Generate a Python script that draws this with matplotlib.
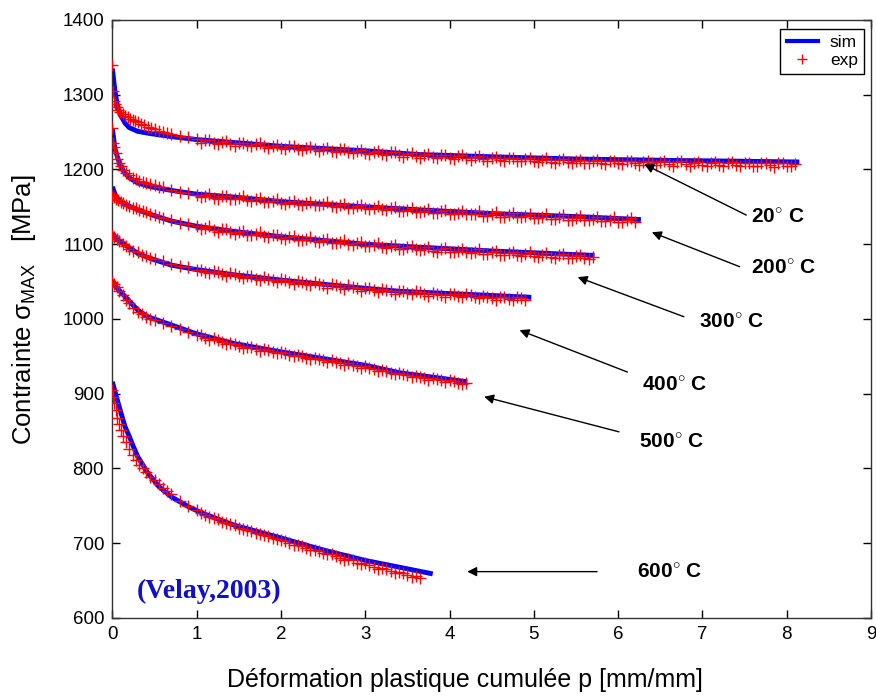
import matplotlib
matplotlib.use("Agg")
import matplotlib.pyplot as plt
from matplotlib.lines import Line2D

plt.rcParams['font.family'] = ['Liberation Sans', 'DejaVu Sans']
plt.rcParams['mathtext.fontset'] = 'custom'
plt.rcParams['mathtext.rm'] = 'Liberation Sans'
plt.rcParams['mathtext.it'] = 'Liberation Sans'

# ---------------- data ----------------
temps = ["20", "200", "300", "400", "500", "600"]

# simulated curves
sim_x_20 = [0, 0.03, 0.06, 0.1, 0.15, 0.2, 0.3, 0.45, 0.7, 1.0, 1.45, 2, 3, 3.64, 4.5, 5.5, 6.72, 7.5, 8.15]
sim_y_20 = [1335, 1305, 1285, 1272, 1262, 1256, 1251, 1248, 1244, 1240, 1236, 1231, 1225, 1220, 1217, 1214, 1212, 1211, 1210]
sim_x_200 = [0, 0.03, 0.07, 0.1, 0.15, 0.2, 0.3, 0.45, 0.7, 1.0, 1.45, 2, 3, 3.64, 4.5, 5.5, 6.27]
sim_y_200 = [1255, 1228, 1213, 1204, 1195, 1189, 1182, 1177, 1172, 1167, 1163, 1157, 1150, 1146, 1141, 1137, 1133]
sim_x_300 = [0, 0.04, 0.1, 0.2, 0.3, 0.45, 0.7, 1.0, 1.45, 2, 3, 3.64, 4.5, 5.72]
sim_y_300 = [1177, 1164, 1157, 1151, 1146, 1140, 1131, 1124, 1117, 1110, 1100, 1096, 1091, 1085]
sim_x_400 = [0, 0.05, 0.15, 0.3, 0.45, 0.7, 1.0, 1.45, 2, 3, 3.41, 4.2, 4.97]
sim_y_400 = [1115, 1107, 1099, 1088, 1081, 1072, 1066, 1059, 1052, 1041, 1037, 1033, 1029]
sim_x_500 = [0, 0.05, 0.15, 0.3, 0.42, 0.7, 1.0, 1.45, 2, 3, 3.41, 4.21]
sim_y_500 = [1052, 1042, 1030, 1012, 1003, 992, 980, 967, 956, 938, 928, 916]
sim_x_600 = [0, 0.03, 0.07, 0.1, 0.15, 0.2, 0.25, 0.3, 0.42, 0.55, 0.7, 0.9, 1.07, 1.45, 2, 2.5, 3, 3.4, 3.8]
sim_y_600 = [916, 903, 887, 875, 856, 843, 829, 816, 794, 776, 762, 749, 740, 724, 707, 691, 677, 668, 659]

# experimental points (main sampling)
exp_x_20 = [0, 0.01, 0.02, 0.03, 0.05, 0.07, 0.09, 0.12, 0.15, 0.18, 0.21, 0.24, 0.27, 0.3, 0.34, 0.38,
            0.42, 0.46, 0.5, 0.55, 0.6, 0.65, 0.7, 0.8, 0.9, 1.0,
            1.1, 1.2, 1.3, 1.4, 1.5, 1.6, 1.7, 1.8, 1.9, 2.0, 2.1, 2.2, 2.3, 2.4, 2.5, 2.6, 2.7, 2.8, 2.9,
            3.0, 3.1, 3.2, 3.3, 3.4, 3.5, 3.6, 3.7, 3.8, 3.9, 4.0, 4.1, 4.2, 4.3, 4.4, 4.5, 4.6, 4.7, 4.8,
            4.9, 5.0, 5.1, 5.2, 5.3, 5.4, 5.5, 5.6, 5.7, 5.8, 5.9, 6.0, 6.1, 6.2, 6.3, 6.4, 6.5, 6.6, 6.7,
            6.8, 6.9, 7.0, 7.1, 7.2, 7.3, 7.4, 7.5, 7.6, 7.7, 7.8, 7.9, 8.0, 8.1]
exp_y_20 = [1340, 1305, 1292, 1288, 1284, 1280, 1277, 1274, 1272, 1270, 1268, 1266, 1265, 1263, 1261, 1259,
            1257, 1256, 1254, 1252, 1250, 1249, 1247, 1245, 1243, 1241,
            1239, 1236, 1237, 1234, 1236, 1233, 1234, 1231, 1232, 1229, 1231, 1228, 1229, 1227, 1228, 1225,
            1227, 1224, 1225, 1222, 1224, 1221, 1223, 1219, 1221, 1218, 1220, 1217, 1219, 1216, 1218, 1215,
            1217, 1214, 1216, 1213, 1215, 1212, 1214, 1212, 1213, 1210, 1213, 1210, 1212, 1209, 1212, 1209,
            1211, 1208, 1211, 1208, 1210, 1208, 1210, 1207, 1210, 1207, 1209, 1206, 1209, 1206, 1209, 1206,
            1208, 1205, 1208, 1206, 1208, 1205, 1207]
exp_x_200 = [0, 0.01, 0.02, 0.04, 0.06, 0.08, 0.1, 0.13, 0.16, 0.2, 0.24, 0.28, 0.32, 0.36, 0.4, 0.45,
             0.5, 0.55, 0.6, 0.7, 0.8, 0.9, 1.0,
             1.1, 1.2, 1.3, 1.4, 1.5, 1.6, 1.7, 1.8, 1.9, 2.0, 2.1, 2.2, 2.3, 2.4, 2.5, 2.6, 2.7, 2.8, 2.9,
             3.0, 3.1, 3.2, 3.3, 3.4, 3.5, 3.6, 3.7, 3.8, 3.9, 4.0, 4.1, 4.2, 4.3, 4.4, 4.5, 4.6, 4.7, 4.8,
             4.9, 5.0, 5.1, 5.2, 5.3, 5.4, 5.5, 5.6, 5.7, 5.8, 5.9, 6.0, 6.1, 6.2]
exp_y_200 = [1255, 1236, 1230, 1222, 1214, 1208, 1204, 1199, 1195, 1192, 1189, 1187, 1185, 1183, 1182, 1180,
             1179, 1177, 1176, 1173, 1170, 1169, 1166,
             1165, 1162, 1164, 1161, 1162, 1159, 1160, 1157, 1158, 1155, 1157, 1154, 1155, 1152, 1154, 1151,
             1152, 1149, 1151, 1148, 1149, 1147, 1148, 1145, 1146, 1143, 1145, 1142, 1144, 1141, 1142, 1140,
             1141, 1138, 1140, 1137, 1139, 1136, 1138, 1135, 1137, 1134, 1136, 1133, 1135, 1132, 1134, 1131,
             1133, 1130, 1132, 1130]
exp_x_300 = [0, 0.02, 0.04, 0.07, 0.1, 0.13, 0.16, 0.2, 0.24, 0.28, 0.32, 0.36, 0.4, 0.45, 0.5, 0.55,
             0.6, 0.7, 0.8, 0.9, 1.0,
             1.1, 1.2, 1.3, 1.4, 1.5, 1.6, 1.7, 1.8, 1.9, 2.0, 2.1, 2.2, 2.3, 2.4, 2.5, 2.6, 2.7, 2.8, 2.9,
             3.0, 3.1, 3.2, 3.3, 3.4, 3.5, 3.6, 3.7, 3.8, 3.9, 4.0, 4.1, 4.2, 4.3, 4.4, 4.5, 4.6, 4.7, 4.8,
             4.9, 5.0, 5.1, 5.2, 5.3, 5.4, 5.5, 5.6, 5.7]
exp_y_300 = [1165, 1163, 1161, 1159, 1157, 1155, 1153, 1151, 1149, 1148, 1146, 1145, 1143, 1141, 1139, 1137,
             1135, 1132, 1129, 1127, 1124,
             1122, 1119, 1120, 1116, 1117, 1113, 1114, 1111, 1112, 1108, 1109, 1106, 1107, 1104, 1105, 1102,
             1103, 1100, 1101, 1098, 1099, 1096, 1097, 1094, 1096, 1093, 1094, 1091, 1093, 1090, 1091, 1089,
             1090, 1087, 1089, 1086, 1088, 1085, 1087, 1084, 1086, 1083, 1085, 1082, 1084, 1082, 1083]
exp_x_400 = [0, 0.02, 0.05, 0.08, 0.12, 0.16, 0.2, 0.25, 0.3, 0.35, 0.4, 0.45, 0.5, 0.6, 0.7, 0.8, 0.9, 1.0,
             1.1, 1.2, 1.3, 1.4, 1.5, 1.6, 1.7, 1.8, 1.9, 2.0, 2.1, 2.2, 2.3, 2.4, 2.5, 2.6, 2.7, 2.8, 2.9,
             3.0, 3.1, 3.2, 3.3, 3.4, 3.5, 3.6, 3.7, 3.8, 3.9, 4.0, 4.1, 4.2, 4.3, 4.4, 4.5, 4.6, 4.7, 4.8, 4.9]
exp_y_400 = [1112, 1110, 1107, 1104, 1100, 1097, 1094, 1091, 1089, 1086, 1084, 1082, 1080, 1077, 1074, 1071,
             1069, 1066,
             1063, 1064, 1060, 1061, 1057, 1058, 1054, 1056, 1052, 1053, 1049, 1051, 1047, 1049, 1045, 1047,
             1043, 1045, 1041, 1042, 1039, 1040, 1037, 1038, 1035, 1037, 1034, 1035, 1032, 1034, 1031, 1033,
             1030, 1031, 1028, 1030, 1027, 1029, 1026]
exp_x_500 = [0, 0.02, 0.05, 0.08, 0.12, 0.16, 0.2, 0.25, 0.3, 0.35, 0.4, 0.45, 0.5, 0.6, 0.7, 0.8, 0.9, 1.0,
             1.1, 1.2, 1.3, 1.4, 1.5, 1.6, 1.7, 1.8, 1.9, 2.0, 2.1, 2.2, 2.3, 2.4, 2.5, 2.6, 2.7, 2.8, 2.9,
             3.0, 3.1, 3.2, 3.3, 3.4, 3.5, 3.6, 3.7, 3.8, 3.9, 4.0, 4.1, 4.2]
exp_y_500 = [1050, 1047, 1043, 1038, 1032, 1026, 1021, 1015, 1010, 1006, 1003, 1000, 998, 994, 990, 986, 983,
             979,
             975, 974, 969, 968, 964, 963, 960, 960, 956, 956, 952, 952, 948, 948, 945, 945, 941, 941, 937,
             937, 933, 932, 928, 928, 925, 924, 921, 921, 918, 918, 914, 915]
exp_x_600 = [0, 0.01, 0.02, 0.04, 0.06, 0.08, 0.1, 0.13, 0.16, 0.2, 0.24, 0.28, 0.32, 0.36, 0.4, 0.45, 0.5,
             0.55, 0.6, 0.65, 0.7, 0.8, 0.9, 1.0,
             1.1, 1.2, 1.3, 1.4, 1.5, 1.6, 1.7, 1.8, 1.9, 2.0, 2.1, 2.2, 2.3, 2.4, 2.5, 2.6, 2.7, 2.8, 2.9,
             3.0, 3.1, 3.2, 3.3, 3.4, 3.5, 3.6, 3.65]
exp_y_600 = [905, 895, 888, 878, 868, 860, 852, 843, 836, 826, 818, 811, 805, 800, 795, 789, 784, 779, 774,
             770, 766, 757, 750, 744,
             738, 734, 729, 726, 721, 718, 714, 711, 707, 704, 700, 698, 693, 691, 687, 685, 680, 679, 674,
             673, 668, 667, 663, 662, 657, 656, 653]

# experimental points read between the main samples, as (p, sigma) pairs
exp_mid_20 = [(1.05, 1236), (1.15, 1240), (1.25, 1234), (1.35, 1238), (1.45, 1232), (1.55, 1236), (1.65, 1231),
              (1.75, 1235), (1.85, 1229), (1.95, 1233), (2.05, 1227), (2.15, 1232), (2.25, 1226), (2.35, 1230),
              (2.45, 1225), (2.55, 1229), (2.65, 1223), (2.75, 1227), (2.85, 1222), (2.95, 1226), (3.05, 1221),
              (3.15, 1225), (3.25, 1219), (3.35, 1223), (3.45, 1217), (3.55, 1222), (3.65, 1216), (3.75, 1221),
              (3.85, 1215), (3.95, 1220), (4.05, 1214), (4.15, 1219), (4.25, 1213), (4.35, 1218), (4.45, 1212),
              (4.55, 1217), (4.65, 1211), (4.75, 1216), (4.85, 1211), (4.95, 1215), (5.05, 1210), (5.15, 1215),
              (5.25, 1209), (5.35, 1214), (5.45, 1208), (5.55, 1213), (5.65, 1208), (5.75, 1213), (5.85, 1207),
              (5.95, 1212), (6.05, 1207), (6.15, 1212), (6.25, 1206), (6.35, 1212), (6.45, 1206), (6.55, 1211),
              (6.65, 1205), (6.75, 1211), (6.85, 1205), (6.95, 1210), (7.05, 1205), (7.15, 1210), (7.25, 1204),
              (7.35, 1210), (7.45, 1204), (7.55, 1209), (7.65, 1204), (7.75, 1209), (7.85, 1203), (7.95, 1209),
              (8.05, 1204)]
exp_mid_200 = [(1.05, 1163), (1.15, 1167), (1.25, 1161), (1.35, 1165), (1.45, 1160), (1.55, 1164), (1.65, 1158),
               (1.75, 1162), (1.85, 1156), (1.95, 1160), (2.05, 1154), (2.15, 1158), (2.25, 1153), (2.35, 1157),
               (2.45, 1152), (2.55, 1156), (2.65, 1150), (2.75, 1154), (2.85, 1149), (2.95, 1153), (3.05, 1147),
               (3.15, 1151), (3.25, 1146), (3.35, 1150), (3.45, 1144), (3.55, 1148), (3.65, 1143), (3.75, 1147),
               (3.85, 1142), (3.95, 1146), (4.05, 1141), (4.15, 1145), (4.25, 1140), (4.35, 1144), (4.45, 1138),
               (4.55, 1143), (4.65, 1137), (4.75, 1142), (4.85, 1136), (4.95, 1141), (5.05, 1135), (5.15, 1140),
               (5.25, 1134), (5.35, 1139), (5.45, 1133), (5.55, 1138), (5.65, 1132), (5.75, 1137), (5.85, 1131),
               (5.95, 1136), (6.05, 1130), (6.15, 1135)]
exp_mid_300 = [(1.05, 1120), (1.15, 1124), (1.25, 1117), (1.35, 1121), (1.45, 1114), (1.55, 1118), (1.65, 1112),
               (1.75, 1116), (1.85, 1109), (1.95, 1113), (2.05, 1107), (2.15, 1111), (2.25, 1105), (2.35, 1109),
               (2.45, 1103), (2.55, 1107), (2.65, 1101), (2.75, 1105), (2.85, 1099), (2.95, 1103), (3.05, 1097),
               (3.15, 1101), (3.25, 1095), (3.35, 1099), (3.45, 1093), (3.55, 1098), (3.65, 1092), (3.75, 1096),
               (3.85, 1090), (3.95, 1095), (4.05, 1089), (4.15, 1094), (4.25, 1088), (4.35, 1093), (4.45, 1087),
               (4.55, 1091), (4.65, 1086), (4.75, 1090), (4.85, 1084), (4.95, 1089), (5.05, 1083), (5.15, 1088),
               (5.25, 1082), (5.35, 1087), (5.45, 1081), (5.55, 1086), (5.65, 1080)]
exp_mid_400 = [(1.05, 1066), (1.15, 1061), (1.25, 1063), (1.35, 1058), (1.45, 1060), (1.55, 1055), (1.65, 1057),
               (1.75, 1052), (1.85, 1054), (1.95, 1050), (2.05, 1052), (2.15, 1047), (2.25, 1049), (2.35, 1045),
               (2.45, 1047), (2.55, 1042), (2.65, 1045), (2.75, 1040), (2.85, 1043), (2.95, 1038), (3.05, 1041),
               (3.15, 1036), (3.25, 1039), (3.35, 1034), (3.45, 1037), (3.55, 1033), (3.65, 1036), (3.75, 1031),
               (3.85, 1034), (3.95, 1030), (4.05, 1033), (4.15, 1029), (4.25, 1032), (4.35, 1028), (4.45, 1030),
               (4.55, 1026), (4.65, 1029), (4.75, 1025), (4.85, 1028)]
exp_mid_500 = [(1.05, 978), (1.15, 972), (1.25, 972), (1.35, 966), (1.45, 966), (1.55, 961), (1.65, 962),
               (1.75, 957), (1.85, 958), (1.95, 954), (2.05, 954), (2.15, 950), (2.25, 950), (2.35, 946),
               (2.45, 947), (2.55, 942), (2.65, 943), (2.75, 939), (2.85, 939), (2.95, 935), (3.05, 935),
               (3.15, 930), (3.25, 931), (3.35, 926), (3.45, 927), (3.55, 922), (3.65, 923), (3.75, 919),
               (3.85, 920), (3.95, 916), (4.05, 917), (4.15, 913)]
exp_mid_600 = [(1.05, 740), (1.15, 735), (1.25, 733), (1.35, 727), (1.45, 725), (1.55, 719), (1.65, 717),
               (1.75, 712), (1.85, 710), (1.95, 705), (2.05, 703), (2.15, 698), (2.25, 696), (2.35, 691),
               (2.45, 690), (2.55, 685), (2.65, 683), (2.75, 678), (2.85, 677), (2.95, 672), (3.05, 671),
               (3.15, 666), (3.25, 665), (3.35, 660), (3.45, 660), (3.55, 655)]

sims = [(sim_x_20, sim_y_20), (sim_x_200, sim_y_200), (sim_x_300, sim_y_300),
        (sim_x_400, sim_y_400), (sim_x_500, sim_y_500), (sim_x_600, sim_y_600)]
exps = [(exp_x_20, exp_y_20), (exp_x_200, exp_y_200), (exp_x_300, exp_y_300),
        (exp_x_400, exp_y_400), (exp_x_500, exp_y_500), (exp_x_600, exp_y_600)]
exp_mids = [exp_mid_20, exp_mid_200, exp_mid_300, exp_mid_400, exp_mid_500, exp_mid_600]

# annotation arrows: (head x, head y), (tail x, tail y), (label x, label y)
arrow_heads = [(6.31, 1207), (6.40, 1116), (5.52, 1056), (4.83, 985), (4.41, 896), (4.21, 662)]
arrow_tails = [(7.52, 1139), (7.44, 1070), (6.78, 1003), (6.11, 929), (6.01, 849), (5.75, 662)]
label_pos = [(7.58, 1136), (7.58, 1068), (6.96, 996), (6.28, 912), (6.25, 835), (6.22, 662)]

x_ticks = [0, 1, 2, 3, 4, 5, 6, 7, 8, 9]
y_ticks = [600, 700, 800, 900, 1000, 1100, 1200, 1300, 1400]

# ---------------- figure ----------------
fig = plt.figure(figsize=(8.76, 6.96), dpi=100)
ax = fig.add_axes([0.1283, 0.1121, 0.8660, 0.8592])

for (sx, sy) in sims:
    ax.plot(sx, sy, color='#0000ff', lw=3.5, solid_capstyle='butt', solid_joinstyle='round', zorder=2)
for (ex, ey), mids in zip(exps, exp_mids):
    ax.plot(ex, ey, ls='none', marker='+', color='#ff0000', ms=8, mew=1.0, zorder=3)
    mx = [p for p, s in mids]
    my = [s for p, s in mids]
    ax.plot(mx, my, ls='none', marker='+', color='#ff0000', ms=8, mew=1.0, zorder=3)

for t, h, tl, lp in zip(temps, arrow_heads, arrow_tails, label_pos):
    ax.annotate('', xy=h, xytext=tl,
                arrowprops=dict(arrowstyle='-|>', color='black', lw=1.0, mutation_scale=14,
                                shrinkA=0, shrinkB=0))
    ax.text(lp[0], lp[1], t + r'$^{\circ}$ C', fontsize=15, fontweight='bold',
            ha='left', va='center')

ax.text(0.29, 635, '(Velay,2003)', fontsize=20, fontweight='bold', color='#1010c8',
        family='Liberation Serif', ha='left', va='center')

ax.set_xlim(0, 9)
ax.set_ylim(600, 1400)
ax.set_xticks(x_ticks)
ax.set_yticks(y_ticks)
ax.tick_params(direction='in', top=True, right=True, length=6, width=1, labelsize=13.5, pad=6)
for s in ax.spines.values():
    s.set_linewidth(1.0)
    s.set_color('#333333')

ax.set_xlabel('Déformation plastique cumulée p [mm/mm]', fontsize=18)
ax.xaxis.set_label_coords(0.465, -0.104)
ax.xaxis.label.set_va('center')
ax.set_ylabel(r'Contrainte $\sigma_{MAX}$   [MPa]', fontsize=18.5)
ax.yaxis.set_label_coords(-0.117, 0.515)
ax.yaxis.label.set_va('center')

handles = [Line2D([], [], color='#0000ff', lw=3),
           Line2D([], [], ls='none', marker='+', color='#ff0000', ms=7)]
leg = ax.legend(handles, ['sim', 'exp'], loc='upper right', bbox_to_anchor=(0.9908, 0.985),
                borderaxespad=0, fontsize=12.5, fancybox=False, framealpha=1, edgecolor='black',
                handlelength=1.8, borderpad=0.35, labelspacing=0.15, handletextpad=0.7)
leg.get_frame().set_linewidth(1.0)

fig.savefig('out.png', dpi=100)
